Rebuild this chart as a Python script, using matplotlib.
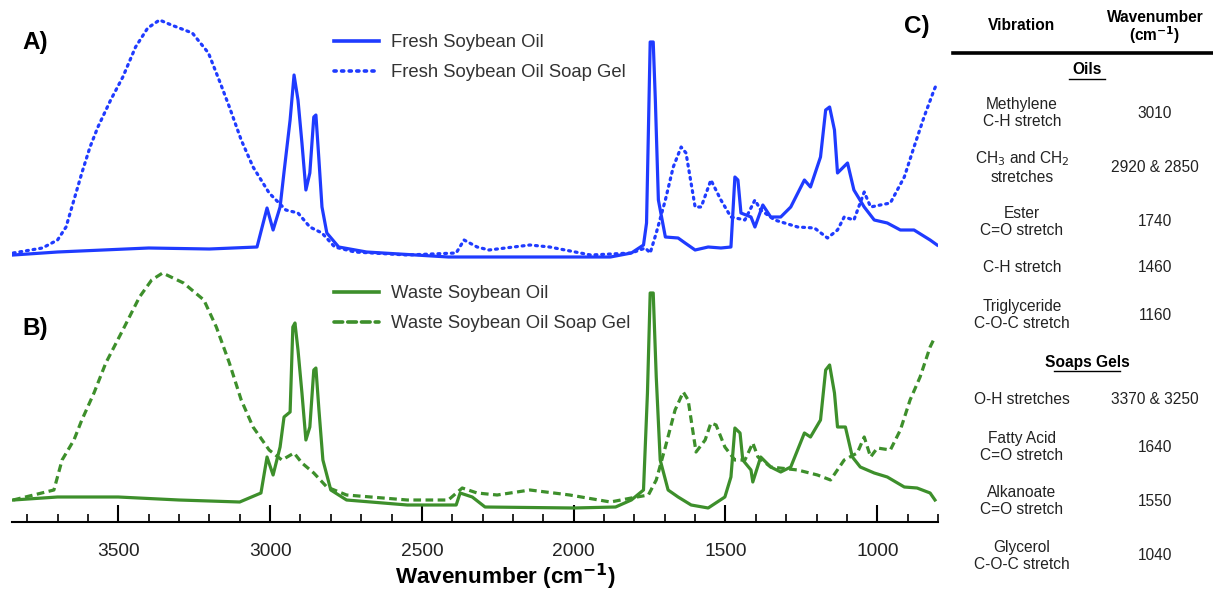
import numpy as np
import matplotlib
matplotlib.use("Agg")
import matplotlib.pyplot as plt
from matplotlib.lines import Line2D

plt.rcParams['font.family'] = ['Liberation Sans', 'DejaVu Sans']

# ---------------- data (relative absorbance, arbitrary units) ----------------
fresh_oil_wn = [3846, 3700, 3400, 3200, 3043, 3010, 2990, 2967, 2954, 2934, 2921, 2908, 2895,
                2882, 2869, 2856, 2849, 2839, 2829, 2813, 2774, 2682, 2413, 2144, 1879, 1810,
                1770, 1760, 1754, 1748, 1738, 1731, 1721, 1698, 1656, 1633, 1600, 1557, 1515,
                1482, 1469, 1459, 1449, 1416, 1403, 1377, 1351, 1318, 1285, 1240, 1220, 1187,
                1170, 1157, 1141, 1131, 1098, 1077, 1043, 1010, 967, 924, 879, 826, 803]
fresh_oil_abs = [3, 6, 10, 9, 11, 50, 28, 51, 86, 138, 183, 158, 115,
                 68, 85, 141, 143, 98, 51, 25, 11, 6, 1, 1, 1, 5,
                 13, 35, 125, 216, 216, 158, 58, 21, 20, 15, 8, 11, 10,
                 11, 81, 78, 45, 41, 31, 53, 41, 41, 51, 78, 71, 101,
                 148, 151, 128, 85, 95, 68, 51, 38, 35, 28, 28, 18, 13]

fresh_gel_wn = [3846, 3750, 3700, 3672, 3646, 3620, 3593, 3567, 3525, 3485, 3443, 3403, 3364,
                3325, 3256, 3203, 3164, 3134, 3095, 3056, 3003, 2948, 2908, 2869, 2829, 2787,
                2721, 2548, 2387, 2361, 2318, 2279, 2144, 2079, 1944, 1810, 1764, 1748, 1728,
                1698, 1672, 1646, 1630, 1600, 1580, 1548, 1515, 1482, 1436, 1403, 1384, 1338,
                1262, 1207, 1164, 1131, 1109, 1077, 1043, 1022, 990, 957, 911, 879, 846, 813, 803]
fresh_gel_abs = [5, 10, 18, 31, 58, 85, 111, 131, 158, 181, 211, 230, 238,
                 233, 225, 205, 175, 151, 118, 91, 65, 48, 45, 31, 25, 11,
                 6, 3, 5, 18, 11, 8, 13, 11, 3, 5, 10, 5, 25,
                 58, 91, 111, 105, 51, 51, 78, 58, 41, 38, 58, 48, 38,
                 31, 30, 20, 28, 41, 38, 66, 51, 53, 55, 81, 111, 141, 168, 175]

waste_oil_wn = [3846, 3700, 3500, 3300, 3100, 3030, 3010, 2990, 2967, 2954, 2934, 2925, 2918,
                2908, 2895, 2882, 2869, 2856, 2849, 2839, 2826, 2800, 2748, 2548, 2387, 2374,
                2334, 2292, 2000, 1862, 1810, 1770, 1757, 1748, 1738, 1728, 1715, 1689, 1656,
                1613, 1557, 1502, 1482, 1469, 1452, 1443, 1416, 1410, 1384, 1351, 1318, 1285,
                1240, 1220, 1187, 1170, 1157, 1141, 1131, 1105, 1082, 1056, 1010, 967, 911,
                869, 826, 810]
waste_oil_abs = [3, 6, 6, 3, 1, 10, 46, 28, 56, 86, 91, 176, 180,
                 153, 110, 63, 76, 133, 135, 93, 43, 13, 3, -2, -2, 10,
                 6, -4, -5, -4, 3, 13, 110, 210, 210, 126, 43, 13, 6,
                 -2, -5, 6, 26, 75, 70, 43, 33, 21, 46, 36, 31, 36,
                 70, 66, 83, 133, 138, 110, 76, 76, 46, 36, 30, 26, 16,
                 15, 10, 3]

waste_gel_wn = [3846, 3712, 3685, 3646, 3620, 3580, 3541, 3485, 3430, 3390, 3354, 3285, 3218,
                3177, 3134, 3095, 3056, 3003, 2961, 2921, 2895, 2856, 2813, 2748, 2548, 2413,
                2367, 2318, 2252, 2144, 2013, 1879, 1810, 1754, 1728, 1698, 1666, 1639, 1623,
                1597, 1567, 1548, 1531, 1502, 1469, 1436, 1410, 1393, 1351, 1262, 1197, 1154,
                1109, 1066, 1043, 1022, 1000, 957, 924, 892, 859, 826, 810]
waste_gel_abs = [3, 13, 43, 63, 83, 110, 140, 173, 206, 223, 230, 220, 203,
                 176, 140, 103, 76, 53, 43, 50, 40, 30, 16, 8, 3, 3,
                 15, 10, 8, 13, 8, 1, 5, 8, 23, 56, 93, 111, 103,
                 51, 63, 80, 78, 56, 43, 43, 60, 46, 36, 33, 28, 23,
                 43, 50, 66, 46, 55, 53, 73, 103, 126, 156, 166]

legend_a = ["Fresh Soybean Oil", "Fresh Soybean Oil Soap Gel"]
legend_b = ["Waste Soybean Oil", "Waste Soybean Oil Soap Gel"]

major_ticks = [3500, 3000, 2500, 2000, 1500, 1000]
minor_ticks = list(range(3800, 799, -100))

table_sections = ["Oils", "Soaps Gels"]
oil_vibrations = ["Methylene\nC-H stretch", "CH$_3$ and CH$_2$\nstretches", "Ester\nC=O stretch",
                  "C-H stretch", "Triglyceride\nC-O-C stretch"]
oil_wavenumbers = ["3010", "2920 & 2850", "1740", "1460", "1160"]
gel_vibrations = ["O-H stretches", "Fatty Acid\nC=O stretch", "Alkanoate\nC=O stretch",
                  "Glycerol\nC-O-C stretch"]
gel_wavenumbers = ["3370 & 3250", "1640", "1550", "1040"]

# ---------------- figure ----------------
W, H = 1213, 595
fig = plt.figure(figsize=(W / 100, H / 100), dpi=100)

def fx(px):
    return px / W

def fy(py):
    return 1 - py / H

ax_left, ax_right, ax_top, ax_bot = 12, 938, 8, 522
ax = fig.add_axes([fx(ax_left), fy(ax_bot), fx(ax_right) - fx(ax_left), fy(ax_top) - fy(ax_bot)])

BLUE = "#1f3bff"
GREEN = "#3d8f2b"
off_green = 19
off_blue = 264
DOT = (0, (0.6, 1.5))
DASH = (0, (2.4, 1.4))

lw = 2.3
ax.plot(fresh_gel_wn, np.array(fresh_gel_abs) + off_blue, color=BLUE, lw=lw,
        linestyle=DOT, dash_capstyle='round')
ax.plot(fresh_oil_wn, np.array(fresh_oil_abs) + off_blue, color=BLUE, lw=lw, solid_joinstyle='round')
ax.plot(waste_gel_wn, np.array(waste_gel_abs) + off_green, color=GREEN, lw=lw, linestyle=DASH)
ax.plot(waste_oil_wn, np.array(waste_oil_abs) + off_green, color=GREEN, lw=lw, solid_joinstyle='round')

ax.set_xlim(3850, 805)
ax.set_ylim(0, ax_bot - ax_top)

for s in ["left", "right", "top"]:
    ax.spines[s].set_visible(False)
ax.spines["bottom"].set_linewidth(1.5)
ax.set_yticks([])
ax.set_xticks(major_ticks)
ax.set_xticks(minor_ticks, minor=True)
ax.tick_params(axis='x', which='major', direction='in', length=12, width=1.5, labelsize=13.8,
               pad=15, labelcolor="#222222")
ax.tick_params(axis='x', which='minor', direction='in', length=6, width=1.2)
ax.set_xlabel("Wavenumber (cm$^{\\mathbf{-1}}$)", fontsize=16.2, fontweight='bold')
ax.xaxis.label.set_va('bottom')
ax.xaxis.set_label_coords((505 - ax_left) / (ax_right - ax_left), -(592 - ax_bot) / (ax_bot - ax_top))

# legends
def make_handles(color, style2):
    return [Line2D([], [], color=color, lw=2.6),
            Line2D([], [], color=color, lw=2.6, linestyle=style2, dash_capstyle='round')]

leg_kw = dict(loc='upper left', frameon=False, fontsize=13.3, handlelength=2.45,
              handletextpad=0.65, labelspacing=0.72, borderpad=0, borderaxespad=0,
              labelcolor="#333333")
fig.legend(make_handles(BLUE, DOT), legend_a, bbox_to_anchor=(fx(334), fy(34)), **leg_kw)
fig.legend(make_handles(GREEN, DASH), legend_b, bbox_to_anchor=(fx(334), fy(285)), **leg_kw)

# panel letters
fig.text(fx(22), fy(43), "A)", fontsize=17.5, fontweight='bold', va='center', ha='left')
fig.text(fx(22), fy(328), "B)", fontsize=17.5, fontweight='bold', va='center', ha='left')
fig.text(fx(904), fy(26), "C)", fontsize=17.5, fontweight='bold', va='center', ha='left')

# ---------------- table ----------------
col1, col2 = 1022, 1155
tfs = 11.2
fig.text(fx(col1), fy(26), "Vibration", fontsize=tfs, fontweight='bold', ha='center', va='center')
fig.text(fx(col2), fy(28), "Wavenumber\n(cm$^{\\mathbf{-1}}$)", fontsize=tfs, fontweight='bold',
         ha='center', va='center', linespacing=1.0)
fig.add_artist(Line2D([fx(953), fx(1213)], [fy(53), fy(53)], color='black', lw=2.6))

def section(label, py):
    return fig.text(fx(1087), fy(py), label, fontsize=tfs, fontweight='bold', ha='center', va='center')

section(table_sections[0], 70)
section(table_sections[1], 362)
for py, x0, x1 in [(79, 1069, 1105), (371, 1054, 1120)]:
    fig.add_artist(Line2D([fx(x0), fx(x1)], [fy(py), fy(py)], color='black', lw=1.0))

oil_rows_y = [113, 167, 222, 268, 315]
gel_rows_y = [400, 447, 501, 556]
for vib, wn, py in zip(oil_vibrations + gel_vibrations, oil_wavenumbers + gel_wavenumbers,
                       oil_rows_y + gel_rows_y):
    fig.text(fx(col1), fy(py), vib, fontsize=tfs, ha='center', va='center', linespacing=1.15,
             color="#222222")
    fig.text(fx(col2), fy(py), wn, fontsize=tfs, ha='center', va='center', color="#222222")

fig.savefig("out.png", dpi=100)
